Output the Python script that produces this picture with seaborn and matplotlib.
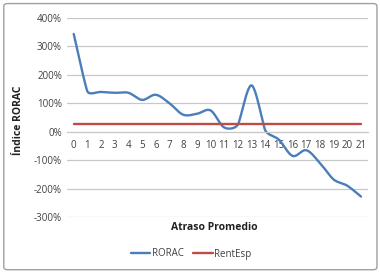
import numpy as np
import pandas as pd
import matplotlib
matplotlib.use('Agg')
import matplotlib.pyplot as plt
import seaborn as sns
from matplotlib.patches import FancyBboxPatch
from matplotlib.ticker import FuncFormatter

# values
atraso = list(range(22))
rorac = [3.44, 1.42, 1.40, 1.37, 1.37, 1.12, 1.30, 1.00, 0.60, 0.63, 0.75, 0.15,
         0.25, 1.63, 0.05, -0.28, -0.85, -0.65, -1.10, -1.68, -1.90, -2.28]
rent_esp = [0.28] * 22

BLUE = '#4a7ebb'
RED = '#be4b48'


def smooth(x, y, n=24, sx=13.6, sy=28.5, k=0.35):
    # Bezier smoothing close to Excel's "smoothed line": tangents (P[i+1]-P[i-1])/6,
    # shortened next to short segments so steep drops don't overshoot
    P = np.column_stack([np.asarray(x, float) * sx, np.asarray(y, float) * sy])
    m = len(P)
    seg = np.linalg.norm(np.diff(P, axis=0), axis=1)
    T = np.zeros_like(P)
    for i in range(m):
        a = P[max(i - 1, 0)]
        b = P[min(i + 1, m - 1)]
        T[i] = (b - a) / 6
        near = min(seg[max(i - 1, 0)], seg[min(i, m - 2)])
        L = np.linalg.norm(T[i])
        if L > k * near:
            T[i] *= k * near / L
    t = np.linspace(0, 1, n, endpoint=False)[:, None]
    pts = []
    for i in range(m - 1):
        c1 = P[i] + T[i]
        c2 = P[i + 1] - T[i + 1]
        pts.append((1 - t) ** 3 * P[i] + 3 * (1 - t) ** 2 * t * c1 + 3 * (1 - t) * t ** 2 * c2 + t ** 3 * P[i + 1])
    pts.append(P[-1:])
    pts = np.vstack(pts)
    return pd.DataFrame({'x': pts[:, 0] / sx, 'y': pts[:, 1] / sy})


sns.set_style('white')
plt.rcParams['font.family'] = ['Open Sans', 'DejaVu Sans']

fig = plt.figure(figsize=(3.8, 2.73), dpi=100)
ax = fig.add_axes([0.176, 0.205, 0.792, 0.729])

curve = smooth(atraso, rorac)
sns.lineplot(data=curve, x='x', y='y', ax=ax, color=BLUE, linewidth=1.7, sort=False, label='RORAC')
sns.lineplot(x=atraso, y=rent_esp, ax=ax, color=RED, linewidth=1.7, label='RentEsp')

ax.set_xlim(-0.5, 21.5)
ax.set_ylim(-3, 4)
ax.set_yticks(range(-3, 5))
ax.yaxis.set_major_formatter(FuncFormatter(lambda v, p: f'{int(round(v * 100))}%'))
ax.set_xticks(atraso)
ax.set_xticklabels([str(a) for a in atraso])
ax.grid(axis='y', color='#c8c8c8', linewidth=0.9)
ax.set_axisbelow(True)
for s in ['top', 'right', 'left']:
    ax.spines[s].set_visible(False)
ax.spines['bottom'].set_position(('data', 0))
ax.spines['bottom'].set_color('#c8c8c8')
ax.tick_params(axis='both', length=0, labelsize=7, colors='#404040')
ax.tick_params(axis='x', pad=6)

ax.set_xlabel('')
ax.set_ylabel('')
fig.text(0.565, 1 - 228 / 273, 'Atraso Promedio', ha='center', va='center',
         fontsize=7.5, fontweight='bold', color='#202020')
fig.text(0.048, 1 - 120 / 273, 'Índice RORAC', ha='center', va='center', rotation=90,
         fontsize=7.5, fontweight='bold', color='#202020')

ax.legend(loc='center', bbox_to_anchor=(0.503, 1 - 254 / 273), bbox_transform=fig.transFigure,
          ncol=2, frameon=False, fontsize=7, handlelength=2.0, columnspacing=1.0,
          handletextpad=0.15, labelcolor='#404040')

fig.patches.append(FancyBboxPatch((0.01, 0.012), 0.982, 0.975, boxstyle='round,pad=0,rounding_size=0.01',
                                  transform=fig.transFigure, fill=False, edgecolor='#a0a0a0', linewidth=1))

fig.savefig('out.png', dpi=100)
